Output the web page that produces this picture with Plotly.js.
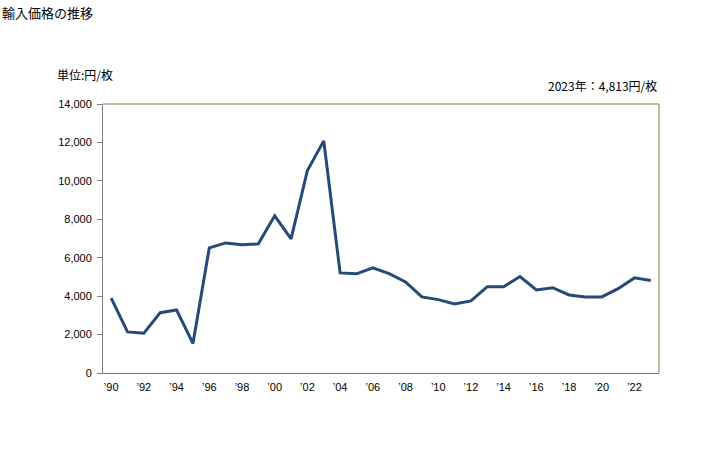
<!DOCTYPE html>
<html><head><meta charset="utf-8">
<script src="https://cdn.plot.ly/plotly-3.0.1.min.js"></script>
<style>body{margin:0;background:#fff}#c{width:728px;height:450px}</style>
</head><body><div id="c"></div>
<script>
const years = [1990,1991,1992,1993,1994,1995,1996,1997,1998,1999,2000,2001,2002,2003,2004,2005,2006,2007,2008,2009,2010,2011,2012,2013,2014,2015,2016,2017,2018,2019,2020,2021,2022,2023];
const prices = [3900,2140,2070,3140,3280,1540,6510,6770,6670,6720,8180,6980,10540,12080,5210,5160,5470,5170,4740,3960,3820,3590,3750,4490,4490,5020,4320,4440,4060,3960,3960,4390,4950,4813];
const tickYears = [1990,1992,1994,1996,1998,2000,2002,2004,2006,2008,2010,2012,2014,2016,2018,2020,2022];
const tickLabels = tickYears.map(y => '’' + String(y).slice(2));
const yTicks = [0,2000,4000,6000,8000,10000,12000,14000];
const yTickLabels = yTicks.map(v => v.toLocaleString('en-US'));

const font = "'Noto Sans CJK JP', 'DejaVu Sans', sans-serif";
const numFont = "'Liberation Sans', Arial, sans-serif";
Plotly.newPlot('c', [{
  x: years, y: prices, type: 'scatter', mode: 'lines',
  line: {color: '#264a78', width: 3}, hoverinfo: 'skip'
}], {
  width: 728, height: 450,
  margin: {l: 103, r: 69, t: 104, b: 77},
  paper_bgcolor: '#fff', plot_bgcolor: '#fff',
  font: {family: font, size: 11, color: '#000'},
  showlegend: false,
  xaxis: {range: [1989.5, 2023.5], tickvals: tickYears, ticktext: tickLabels,
    showgrid: false, zeroline: false, showline: true, linecolor: '#808080', linewidth: 1,
    ticks: '', ticklabelstandoff: 4, tickfont: {size: 11, family: numFont}, fixedrange: true},
  yaxis: {range: [0, 14000], tickvals: yTicks, ticktext: yTickLabels,
    showgrid: false, zeroline: false, showline: true, linecolor: '#808080', linewidth: 1,
    ticks: 'outside', ticklen: 5, tickcolor: '#808080', ticklabelstandoff: 3,
    tickfont: {size: 11, family: numFont}, fixedrange: true},
  shapes: [
    {type: 'line', xref: 'paper', yref: 'paper', x0: 0, x1: 1, y0: 1, y1: 1, line: {color: '#8b7d3a', width: 1}},
    {type: 'line', xref: 'paper', yref: 'paper', x0: 1, x1: 1, y0: 0, y1: 1, line: {color: '#8b7d3a', width: 1}}
  ],
  annotations: [
    {text: '輸入価格の推移', xref: 'paper', yref: 'paper', x: -103/556, y: 1 + 92/269, xanchor: 'left', yanchor: 'middle', showarrow: false, font: {size: 13, family: font}},
    {text: '単位:円/枚', xref: 'paper', yref: 'paper', x: -48/556, y: 1 + 30/269, xanchor: 'left', yanchor: 'middle', showarrow: false, font: {size: 12, family: font}},
    {text: '2023年：4,813円/枚', xref: 'paper', yref: 'paper', x: 1, y: 1 + 19/269, xanchor: 'right', yanchor: 'middle', showarrow: false, font: {size: 12, family: font}}
  ]
}, {staticPlot: true});
</script></body></html>
